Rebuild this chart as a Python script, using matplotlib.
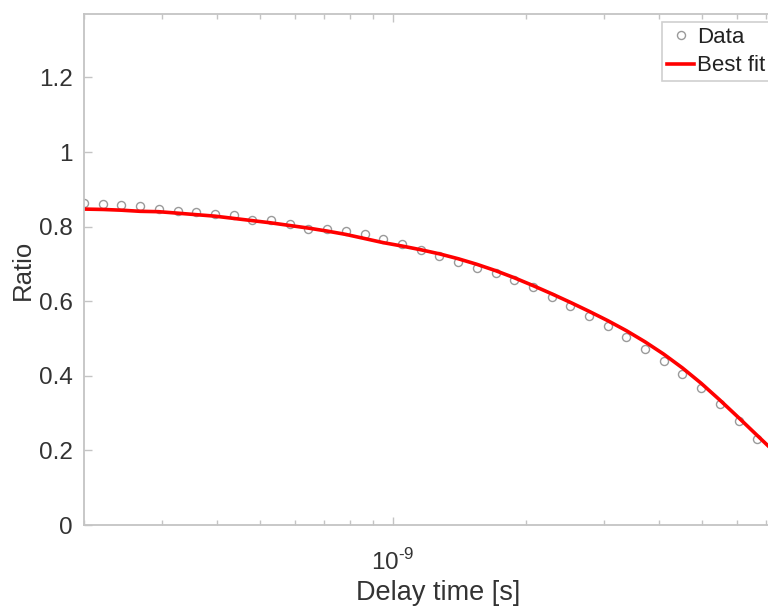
import matplotlib
matplotlib.use("Agg")
import matplotlib.pyplot as plt
from matplotlib.ticker import LogLocator, NullFormatter, FixedLocator, FixedFormatter
import numpy as np

plt.rcParams['font.family'] = ['Liberation Sans', 'DejaVu Sans']
plt.rcParams['mathtext.fontset'] = 'custom'
plt.rcParams['mathtext.rm'] = 'Liberation Sans'

# delay times in ns (log spaced samples)
delay_ns = [0.200, 0.2205, 0.243, 0.268, 0.295, 0.326, 0.359, 0.396, 0.436, 0.481,
            0.530, 0.584, 0.644, 0.710, 0.783, 0.863, 0.951, 1.048, 1.156, 1.274,
            1.404, 1.548, 1.707, 1.881, 2.074, 2.286, 2.520, 2.778, 3.062, 3.375,
            3.721, 4.101, 4.521, 4.983, 5.493, 6.055, 6.675]
ratio_data = [0.864, 0.861, 0.859, 0.854, 0.848, 0.843, 0.838, 0.835, 0.830, 0.819,
              0.818, 0.806, 0.794, 0.794, 0.787, 0.779, 0.766, 0.754, 0.738, 0.720,
              0.705, 0.690, 0.676, 0.658, 0.638, 0.610, 0.586, 0.560, 0.533, 0.504,
              0.471, 0.439, 0.404, 0.366, 0.324, 0.278, 0.230]

fit_ns = delay_ns + [7.36]
ratio_fit = [0.847, 0.846, 0.844, 0.841, 0.840, 0.836, 0.832, 0.828, 0.822, 0.816,
             0.810, 0.803, 0.796, 0.788, 0.779, 0.768, 0.757, 0.748, 0.738, 0.727,
             0.714, 0.699, 0.682, 0.663, 0.642, 0.620, 0.597, 0.573, 0.548, 0.521,
             0.491, 0.458, 0.421, 0.380, 0.335, 0.288, 0.240, 0.192]

x_data = np.array(delay_ns) * 1e-9
x_fit = np.array(fit_ns) * 1e-9

W, H = 768, 608
fig = plt.figure(figsize=(W / 100, H / 100), dpi=100)
# axes run past the right edge of the figure, like the cropped original
ax = fig.add_axes([84 / W, (H - 525) / H, (792 - 84) / W, (525 - 14) / H])

ax.plot(x_data, ratio_data, 'o', mfc='none', mec='#9a9a9a', ms=5.8, mew=1.0, label='Data')
ax.plot(x_fit, ratio_fit, '-', color='#ff0000', lw=2.6, label='Best fit')

ax.set_xscale('log')
ax.set_xlim(2e-10, 8e-9)
ax.set_ylim(0, 1.37)
ax.set_yticks([0, 0.2, 0.4, 0.6, 0.8, 1.0, 1.2])
ax.set_yticklabels(['0', '0.2', '0.4', '0.6', '0.8', '1', '1.2'])
ax.xaxis.set_major_locator(FixedLocator([1e-9]))
ax.xaxis.set_major_formatter(FixedFormatter([r'10$^{\text{-9}}$']))
ax.xaxis.set_minor_locator(LogLocator(base=10, subs=np.arange(2, 10)))
ax.xaxis.set_minor_formatter(NullFormatter())

spine_col = '#c4c4c4'
for s in ax.spines.values():
    s.set_color(spine_col)
    s.set_linewidth(1.3)
ax.spines['right'].set_visible(False)

ax.tick_params(axis='both', which='both', direction='in', colors=spine_col,
               labelcolor='#333333', labelsize=17.5, top=True, right=False)
ax.tick_params(axis='both', which='major', length=6, width=1.0)
ax.tick_params(axis='x', which='minor', length=3.5, width=1.0)
ax.tick_params(axis='x', which='major', pad=17)
ax.tick_params(axis='y', which='major', pad=8)

ax.set_xlabel('Delay time [s]', fontsize=19.5, color='#333333', labelpad=4)
ax.set_ylabel('Ratio', fontsize=18.5, color='#333333', labelpad=3)

leg = ax.legend(loc='upper right', bbox_to_anchor=(0.968, 0.984), borderaxespad=0,
                fontsize=16, frameon=True, fancybox=False, handlelength=1.25,
                handletextpad=0.1, labelspacing=0.35, borderpad=0.2)
leg.get_frame().set_edgecolor('#c4c4c4')
leg.get_frame().set_linewidth(1.2)
for t in leg.get_texts():
    t.set_color('#222222')

fig.savefig('out.png', dpi=100)
